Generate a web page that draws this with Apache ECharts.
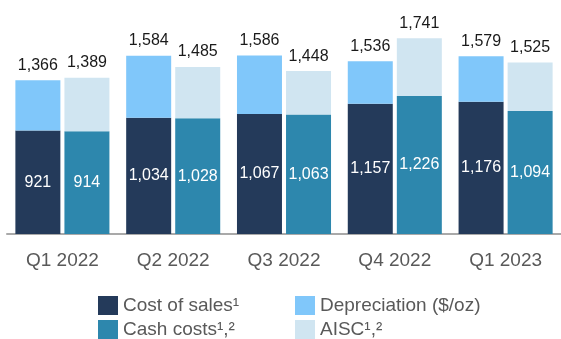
<!DOCTYPE html>
<html>
<head>
<meta charset="utf-8">
<script src="https://cdn.jsdelivr.net/npm/echarts@6/dist/echarts.min.js"></script>
<style>
  html, body { margin: 0; padding: 0; background: #fff; }
  #chart { width: 561px; height: 339px; }
</style>
</head>
<body>
<div id="chart"></div>
<script>
const quarters = ['Q1 2022', 'Q2 2022', 'Q3 2022', 'Q4 2022', 'Q1 2023'];
const costOfSales = [921, 1034, 1067, 1157, 1176];
const totalCost = [1366, 1584, 1586, 1536, 1579];
const cashCosts = [914, 1028, 1063, 1226, 1094];
const aiscTotal = [1389, 1485, 1448, 1741, 1525];

const fmt = (v) => v.toLocaleString('en-US');
const font = '"Liberation Sans", Arial, sans-serif';

const chart = echarts.init(document.getElementById('chart'));

// inside labels (white) and total labels on top
const innerLabel = {
  show: true,
  position: 'inside',
  color: '#fff',
  fontSize: 16,
  fontFamily: font,
  formatter: (p) => fmt(p.value),
};
const topLabel = (totals) => ({
  show: true,
  position: 'top',
  distance: 7,
  color: '#1a1a1a',
  fontSize: 16,
  fontFamily: font,
  formatter: (p) => fmt(totals[p.dataIndex]),
});

const legendBase = {
  orient: 'vertical',
  top: 291,
  height: 50,
  itemWidth: 20,
  itemHeight: 19,
  itemGap: 5,
  icon: 'rect',
  textStyle: { fontSize: 19, lineHeight: 19, color: '#595959', fontFamily: font },
};

const option = {
  animation: false,
  textStyle: { fontFamily: font },
  grid: { left: 7, width: 560, top: 9, bottom: 105 },
  legend: [
    { ...legendBase, left: 93, data: ['Cost of sales¹', 'Cash costs¹,²'] },
    { ...legendBase, left: 290, data: ['Depreciation ($/oz)', 'AISC¹,²'] },
  ],
  xAxis: {
    type: 'category',
    data: quarters,
    axisTick: { show: false },
    axisLine: { lineStyle: { color: '#a9a9a9', width: 2 } },
    axisLabel: { fontSize: 19, color: '#595959', margin: 17, fontFamily: font },
  },
  yAxis: {
    type: 'value',
    min: 0,
    max: 2000,
    show: false,
    splitLine: { show: false },
  },
  series: [
    {
      name: 'Cost of sales¹',
      type: 'bar',
      stack: 'cost',
      barWidth: 45,
      barGap: '9%',
      itemStyle: { color: '#243a5a' },
      label: innerLabel,
      data: costOfSales,
    },
    {
      name: 'Depreciation ($/oz)',
      type: 'bar',
      stack: 'cost',
      barWidth: 45,
      itemStyle: { color: '#80c7fa' },
      label: topLabel(totalCost),
      data: totalCost.map((t, i) => t - costOfSales[i]),
    },
    {
      name: 'Cash costs¹,²',
      type: 'bar',
      stack: 'cash',
      barWidth: 45,
      barGap: '9%',
      itemStyle: { color: '#2d87ad' },
      label: innerLabel,
      data: cashCosts,
    },
    {
      name: 'AISC¹,²',
      type: 'bar',
      stack: 'cash',
      barWidth: 45,
      itemStyle: { color: '#d0e5f1' },
      label: topLabel(aiscTotal),
      data: aiscTotal.map((t, i) => t - cashCosts[i]),
    },
  ],
};

chart.setOption(option);
</script>
</body>
</html>
